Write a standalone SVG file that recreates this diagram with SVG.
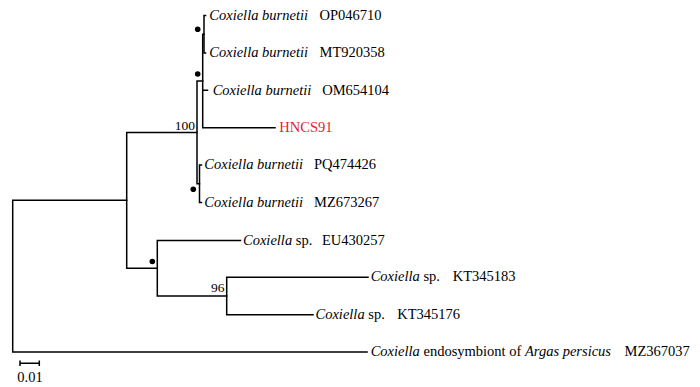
<svg xmlns="http://www.w3.org/2000/svg" width="700" height="387" viewBox="0 0 700 387">
<style>
.br{stroke:#000;stroke-width:1.5;fill:none;stroke-linecap:square}
.t{font-family:"Liberation Serif","Times New Roman",serif;font-size:14.5px;fill:#000}
.i{font-style:italic}
.bs{font-family:"Liberation Serif","Times New Roman",serif;font-size:13.5px;fill:#000;text-anchor:end}
.dot{fill:#000}
.red{fill:#e3232b}
</style>
<rect width="700" height="387" fill="#fff"/>
<g id="connectors" class="br">
<path d="M12.7,200.3V352.1M12.7,200.3H126.7M12.7,352.1H367"/>
<path d="M126.7,132.4V268.2M126.7,132.4H197M126.7,268.2H157.3"/>
<path d="M197,81V183.8M197,81H202.7M197,183.8H199.5"/>
<path d="M202.7,34.2V127.7M202.7,34.2H204M202.7,90.3H207.5M202.7,127.7H275"/>
<path d="M204,15.5V52.9M204,15.5H205.5M204,52.9H205.5"/>
<path d="M199.5,165.1V202.5M199.5,165.1H201.5M199.5,202.5H201.5"/>
<path d="M157.3,240.5V296M157.3,240.5H240.5M157.3,296H226.7"/>
<path d="M226.7,277.3V314.7M226.7,277.3H368M226.7,314.7H313"/>
</g>
<g id="node-op-mt"><circle class="dot" cx="197.7" cy="29.3" r="2.8"/></g>
<g id="node-burnetii-a"><circle class="dot" cx="197.7" cy="74" r="2.8"/></g>
<g id="node-100"><text class="bs" x="195" y="129.5">100</text></g>
<g id="node-pq-mz"><circle class="dot" cx="193.3" cy="189.3" r="2.8"/></g>
<g id="node-sp"><circle class="dot" cx="152.3" cy="261.5" r="2.8"/></g>
<g id="node-96"><text class="bs" x="224.5" y="292.3">96</text></g>
<g id="tip-OP046710"><text class="t" y="19.8"><tspan class="i" x="209.3">Coxiella burnetii</tspan><tspan x="319.5">OP046710</tspan></text></g>
<g id="tip-MT920358"><text class="t" y="57.2"><tspan class="i" x="209.3">Coxiella burnetii</tspan><tspan x="319.5">MT920358</tspan></text></g>
<g id="tip-OM654104"><text class="t" y="94.6"><tspan class="i" x="212.7">Coxiella burnetii</tspan><tspan x="322.2">OM654104</tspan></text></g>
<g id="tip-HNCS91"><text class="t red" x="279.3" y="131.6">HNCS91</text></g>
<g id="tip-PQ474426"><text class="t" y="169"><tspan class="i" x="204.3">Coxiella burnetii</tspan><tspan x="314">PQ474426</tspan></text></g>
<g id="tip-MZ673267"><text class="t" y="206.6"><tspan class="i" x="204.3">Coxiella burnetii</tspan><tspan x="314">MZ673267</tspan></text></g>
<g id="tip-EU430257"><text class="t" y="244.5"><tspan class="i" x="243">Coxiella</tspan><tspan> sp.</tspan><tspan x="322">EU430257</tspan></text></g>
<g id="tip-KT345183"><text class="t" y="281.4"><tspan class="i" x="370.7">Coxiella</tspan><tspan> sp.</tspan><tspan x="452.7">KT345183</tspan></text></g>
<g id="tip-KT345176"><text class="t" y="318.8"><tspan class="i" x="315.5">Coxiella</tspan><tspan> sp.</tspan><tspan x="397.2">KT345176</tspan></text></g>
<g id="tip-MZ367037"><text class="t" y="356.4"><tspan class="i" x="370.7">Coxiella</tspan><tspan> endosymbiont of </tspan><tspan class="i">Argas persicus</tspan><tspan x="624.5">MZ367037</tspan></text></g>
<g id="scale-bar">
<path class="br" d="M20,363.3H39.3M20,361.3V365.3M39.3,361.3V365.3"/>
<text class="t" x="17.3" y="381.7">0.01</text>
</g>
</svg>
